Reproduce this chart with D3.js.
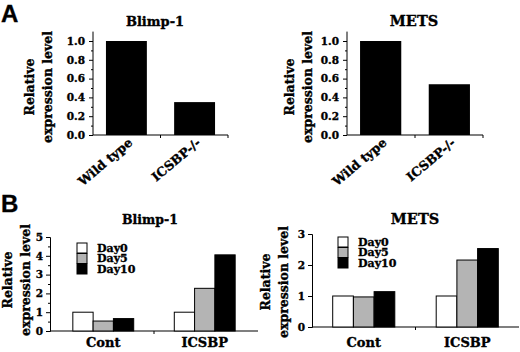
<!DOCTYPE html>
<html><head><meta charset="utf-8">
<script src="https://cdn.jsdelivr.net/npm/d3@7/dist/d3.min.js"></script>
<style>
body{margin:0;background:#fff;}
svg text{font-family:"DejaVu Serif",serif;font-weight:bold;fill:#000;stroke:#000;stroke-width:0.35px;}
</style></head>
<body><svg id="c" width="520" height="352"></svg>
<script>
// Panel A data
const catsA = ["Wild type", "ICSBP-/-"];
const blimpA = [1.0, 0.35];
const metsA = [1.0, 0.54];
const ticksA = [0, 0.2, 0.4, 0.6, 0.8, 1.0];
// Panel B data
const catsB = ["Cont", "ICSBP"];
const seriesB = ["Day0", "Day5", "Day10"];
const blimpB_day0 = [1.0, 1.0];
const blimpB_day5 = [0.53, 2.27];
const blimpB_day10 = [0.66, 4.05];
const metsB_day0 = [1.0, 1.0];
const metsB_day5 = [0.97, 2.16];
const metsB_day10 = [1.14, 2.53];
const ticksBleft = [0, 1, 2, 3, 4, 5];
const ticksBright = [0, 1, 2, 3];
const colorsB = ["#ffffff", "#b4b4b4", "#000000"];

const svg = d3.select("#c");

function yTitle(g, x1, x2, yc, size) {
  g.append("text").attr("transform", `translate(${x1},${yc}) rotate(-90)`)
    .attr("text-anchor", "middle").attr("font-size", size).text("Relative");
  g.append("text").attr("transform", `translate(${x2},${yc}) rotate(-90)`)
    .attr("text-anchor", "middle").attr("font-size", size).text("expression level");
}

function panelA(opts) {
  const g = svg.append("g");
  const x = d3.scaleBand().domain(catsA).range(opts.xr).paddingInner(0.4).paddingOuter(0.19);
  const y = d3.scaleLinear().domain([0, 1.1]).range([135, 135 - 94 * 1.1]);
  const yAxis = d3.axisLeft(y).tickValues(ticksA).tickFormat(d3.format(".1f")).tickSize(4).tickPadding(4);
  const minor = d3.axisLeft(y).tickValues(d3.range(0.1, 1.1, 0.2)).tickSize(2).tickFormat("");
  const ga = g.append("g").attr("transform", `translate(${opts.xr[0]},0)`).call(yAxis);
  ga.select(".domain").attr("d", `M0,${y(0)}V${y(1.1)}`);
  ga.selectAll("text").attr("font-size", 10.5);
  const gm = g.append("g").attr("transform", `translate(${opts.xr[0]},0)`).call(minor);
  gm.select(".domain").remove();
  g.append("line").attr("x1", opts.xr[0]).attr("x2", opts.xr[1]).attr("y1", y(0)).attr("y2", y(0)).attr("stroke", "#000").attr("stroke-width", 1.2);
  const mid = (x(catsA[0]) + x.bandwidth() + x(catsA[1])) / 2;
  g.append("line").attr("x1", mid).attr("x2", mid).attr("y1", y(0)).attr("y2", y(0) + 3).attr("stroke", "#000");
  g.append("line").attr("x1", opts.xr[1]).attr("x2", opts.xr[1]).attr("y1", y(0)).attr("y2", y(0) + 3).attr("stroke", "#000");
  g.selectAll("rect.bar").data(opts.values).join("rect").attr("class", "bar")
    .attr("x", (d, i) => x(catsA[i])).attr("width", x.bandwidth())
    .attr("y", d => y(d)).attr("height", d => y(0) - y(d)).attr("fill", "#000");
  g.selectAll("text.xl").data(catsA).join("text").attr("class", "xl")
    .attr("transform", d => `translate(${x(d) + x.bandwidth() / 2 + 7},${y(0) + 9}) rotate(-40)`)
    .attr("text-anchor", "end").attr("font-size", 12.5).text(d => d);
  g.append("text").attr("x", opts.tx).attr("y", 26).attr("text-anchor", "middle").attr("font-size", opts.ts).text(opts.title);
  yTitle(g, opts.t1, opts.t2, 87, 12.5);
}

function panelB(opts) {
  const g = svg.append("g");
  const x = d3.scaleBand().domain(catsB).range(opts.xr).paddingInner(0.4).paddingOuter(opts.po);
  const xs = d3.scaleBand().domain(seriesB).range([0, x.bandwidth()]);
  const y = d3.scaleLinear().domain([0, opts.max]).range([opts.y0, opts.ytop]);
  const yAxis = d3.axisLeft(y).tickValues(opts.ticks).tickFormat(d3.format("d")).tickSize(4).tickPadding(3);
  const ga = g.append("g").attr("transform", `translate(${opts.xr[0]},0)`).call(yAxis);
  ga.selectAll("text").attr("font-size", 10.5);
  if (opts.minor) {
    const gm = g.append("g").attr("transform", `translate(${opts.xr[0]},0)`)
      .call(d3.axisLeft(y).tickValues(opts.minor).tickSize(2).tickFormat(""));
    gm.select(".domain").remove();
  }
  g.append("line").attr("x1", opts.xr[0]).attr("x2", opts.xr[1]).attr("y1", y(0)).attr("y2", y(0)).attr("stroke", "#000").attr("stroke-width", 1.2);
  const mid = (x(catsB[0]) + x.bandwidth() + x(catsB[1])) / 2;
  g.append("line").attr("x1", mid).attr("x2", mid).attr("y1", y(0)).attr("y2", y(0) + 3).attr("stroke", "#000");
  opts.series.forEach((vals, si) => {
    g.selectAll(null).data(vals).join("rect")
      .attr("x", (d, i) => x(catsB[i]) + xs(seriesB[si])).attr("width", xs.bandwidth())
      .attr("y", d => y(d)).attr("height", d => y(0) - y(d))
      .attr("fill", colorsB[si]).attr("stroke", "#000").attr("stroke-width", 1);
  });
  g.selectAll("text.xl").data(catsB).join("text").attr("class", "xl")
    .attr("x", d => x(d) + x.bandwidth() / 2).attr("y", 347)
    .attr("text-anchor", "middle").attr("font-size", 13).text(d => d);
  g.append("text").attr("x", opts.tx).attr("y", 224).attr("text-anchor", "middle").attr("font-size", opts.ts).text(opts.title);
  seriesB.forEach((s, i) => {
    g.append("rect").attr("x", opts.lx).attr("y", opts.ly + i * 10.5).attr("width", 10).attr("height", 10)
      .attr("fill", colorsB[i]).attr("stroke", "#000");
    g.append("text").attr("x", opts.lx + 20).attr("y", opts.ly + i * 10.5 + 8.5).attr("font-size", 11).text(s);
  });
  yTitle(g, opts.t1, opts.t2, opts.tyc, 12.5);
}

panelA({xr: [93, 228], values: blimpA, title: "Blimp-1", tx: 155, ts: 13, t1: 34, t2: 52});
panelA({xr: [347, 483], values: metsA, title: "METS", tx: 414, ts: 14.5, t1: 294, t2: 312});

panelB({xr: [50, 258], po: 0.225, max: 5, y0: 331, ytop: 237, ticks: ticksBleft, minor: d3.range(0.5, 5, 1),
  series: [blimpB_day0, blimpB_day5, blimpB_day10], title: "Blimp-1", tx: 150, ts: 12.5, lx: 77, ly: 243, t1: 12, t2: 30, tyc: 280});
panelB({xr: [312, 519], po: 0.2, max: 3, y0: 327, ytop: 234, ticks: ticksBright, minor: null,
  series: [metsB_day0, metsB_day5, metsB_day10], title: "METS", tx: 415, ts: 14.5, lx: 338, ly: 237, t1: 270, t2: 288, tyc: 282});

svg.append("text").attr("x", 1).attr("y", 22).attr("font-size", 24).style("font-family", "Liberation Sans, Arial, sans-serif").text("A");
svg.append("text").attr("x", 1).attr("y", 212).attr("font-size", 24).style("font-family", "Liberation Sans, Arial, sans-serif").text("B");
</script></body></html>
